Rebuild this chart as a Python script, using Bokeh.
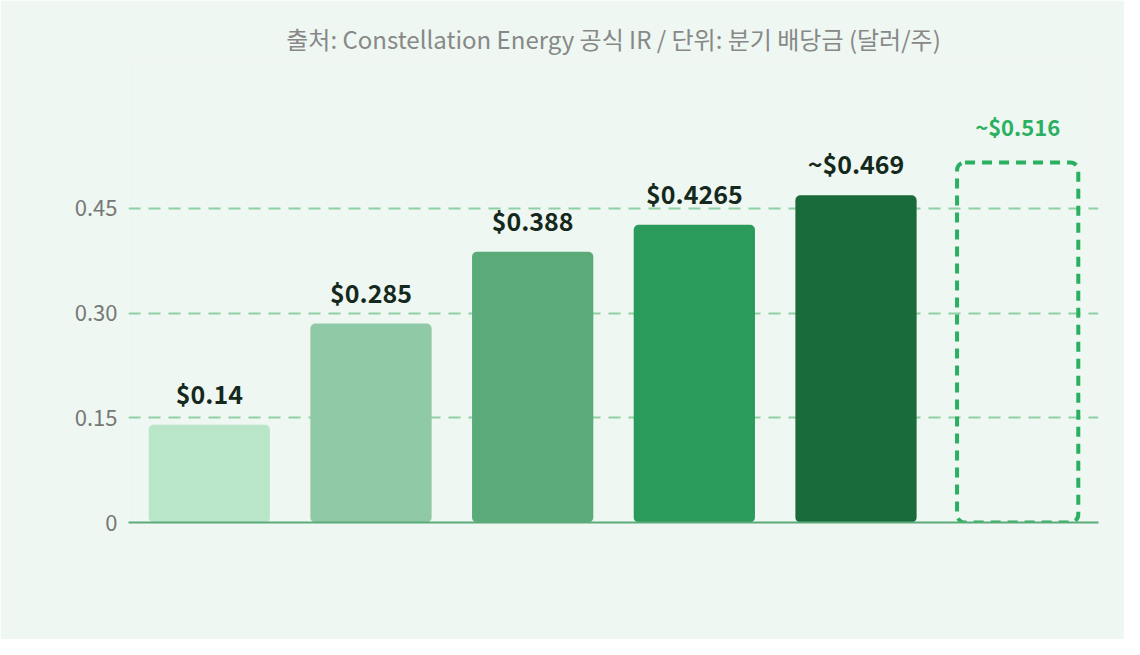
from bokeh.plotting import figure
from bokeh.models import Label, FixedTicker, ColumnDataSource
from bokeh.embed import file_html
from bokeh.resources import INLINE

cats = ["2022", "2023", "2024", "2025", "2026E", "2027E"]
vals = [0.14, 0.285, 0.388, 0.4265, 0.469, 0.516]
val_labels = ["$0.14", "$0.285", "$0.388", "$0.4265", "~$0.469", "~$0.516"]
colors = ["#b9e6c8", "#90c9a5", "#5aaa7a", "#2a9b5a", "#1a6b3b", "#2ab060"]
sub_labels = ["", "", "", "▲+10%", "▲+10%", "▲목표"]
yticks = [0, 0.15, 0.30, 0.45]
ytick_labels = ["0", "0.15", "0.30", "0.45"]

F = "Noto Sans CJK KR"
BG = "#eef7f1"
p = figure(x_range=cats, y_range=(0, 0.662), width=1124, height=639,
           output_backend="svg", toolbar_location=None,
           min_border_left=128, min_border_right=26, min_border_top=60, min_border_bottom=117)
p.title.text = "출처: Constellation Energy 공식 IR / 단위: 분기 배당금 (달러/주)"
p.title.align = "center"
p.title.text_font = F
p.title.text_font_style = "normal"
p.title.text_font_size = "24px"
p.title.text_color = "#888888"
p.border_fill_color = BG
p.background_fill_color = BG
p.outline_line_color = None

src = ColumnDataSource(dict(x=cats[:5], top=vals[:5], c=colors[:5]))
p.vbar(x="x", top="top", width=0.75, source=src, fill_color="c", line_color=None, border_radius=5)
p.vbar(x=[cats[5]], top=[vals[5]], width=0.75, fill_color=None, line_color=colors[5],
       line_width=4, line_dash="10 7", border_radius=8)

p.xgrid.grid_line_color = None
p.ygrid.ticker = FixedTicker(ticks=yticks[1:])
p.ygrid.grid_line_color = "#8fcfa5"
p.ygrid.grid_line_width = 2
p.ygrid.grid_line_dash = "12 8"

p.yaxis.ticker = FixedTicker(ticks=yticks)
p.yaxis.major_label_overrides = {t: l for t, l in zip(yticks, ytick_labels)}
p.yaxis.axis_line_color = None
p.yaxis.major_tick_line_color = None
p.yaxis.minor_tick_line_color = None
p.yaxis.major_label_text_font = F
p.yaxis.major_label_text_font_size = "22px"
p.yaxis.major_label_text_color = "#777777"

p.xaxis.axis_line_color = "#5aaa7a"
p.xaxis.axis_line_width = 2
p.xaxis.major_tick_line_color = None
p.xaxis.major_label_text_font_size = "0px"

for i, c in enumerate(cats):
    last = i == 5
    p.add_layout(Label(x=i + 0.5, y=vals[i], text=val_labels[i], text_align="center",
                       text_baseline="bottom", y_offset=14 if not last else 20,
                       text_font=F, text_font_style="bold",
                       text_font_size="22px" if last else "25px",
                       text_color=colors[5] if last else "#14291c"))
    p.add_layout(Label(x=i + 0.5, y=-35, y_units="screen", text=c, text_align="center",
                       text_baseline="middle", text_font=F, text_font_size="22px",
                       text_color=colors[5] if last else "#666666"))
    if sub_labels[i]:
        p.add_layout(Label(x=i + 0.5, y=-70, y_units="screen", text=sub_labels[i],
                           text_align="center", text_baseline="middle", text_font=F,
                           text_font_size="21px",
                           text_color="#2ab060" if last else "#1f7a45"))

open("out.html", "w").write(file_html(p, INLINE))
